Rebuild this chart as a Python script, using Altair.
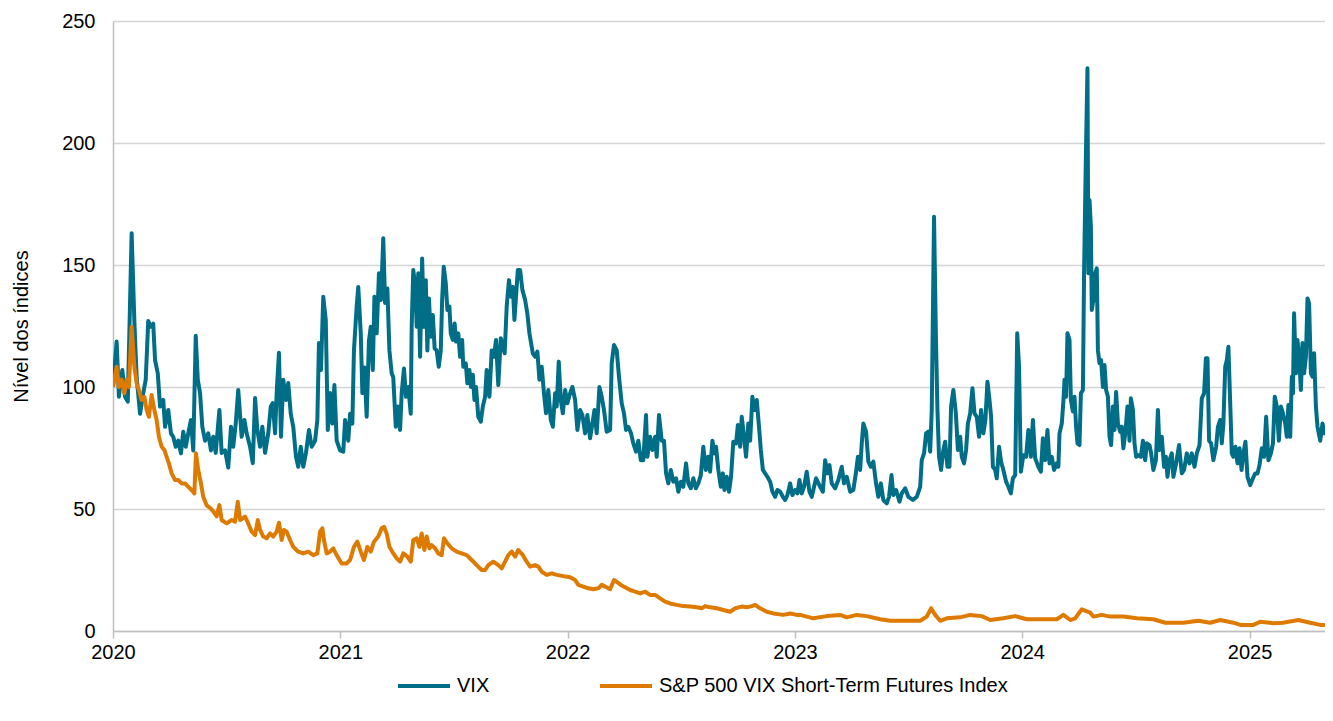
import altair as alt
import pandas as pd

VIX_NAME = "VIX"
SP_NAME = "S&P 500 VIX Short-Term Futures Index"

# (anos desde 2020-01-01, nível do índice)
vix_2020 = [(0.000,100),(0.016,118.6),(0.026,96),(0.041,107),(0.053,96),(0.065,94),(0.082,163),(0.094,127),(0.104,104),(0.119,89),(0.133,97.5),(0.144,103),(0.155,127),(0.167,124.7),(0.177,126),(0.185,111),(0.197,105.6),(0.207,92),(0.221,94.7),(0.229,83.7),(0.243,90.6),(0.255,81),(0.265,79.6),(0.276,75.5),(0.287,78),(0.299,72.8),(0.309,81.7),(0.320,75.5),(0.331,81),(0.343,86.5),(0.353,74),(0.364,121),(0.373,103),(0.383,97.5),(0.393,83.7),(0.405,78),(0.419,81),(0.431,74),(0.441,79.6),(0.452,73),(0.468,90.6),(0.478,73),(0.493,74),(0.507,67),(0.519,83.7),(0.529,75.5),(0.540,85),(0.551,98.8),(0.566,79.6),(0.578,86.5),(0.588,81),(0.603,75.5),(0.615,68.8),(0.625,95.5),(0.635,82.4),(0.647,75.5),(0.657,83.7),(0.669,73),(0.683,81),(0.694,92),(0.703,93.4),(0.713,81),(0.720,97.5),(0.730,114),(0.739,79.6),(0.749,103),(0.761,94.7),(0.771,101.6),(0.782,89),(0.793,83.7),(0.805,71.4),(0.815,67.3),(0.826,75.5),(0.837,67.3),(0.849,73),(0.862,82.4),(0.874,75.5),(0.889,78),(0.899,86.5),(0.906,118),(0.915,107),(0.925,137),(0.936,127.5),(0.945,82.4),(0.955,97.5),(0.965,85),(0.974,100.8),(0.984,78),(0.999,74)]
vix_2021 = [(1.013,73.5),(1.021,86.5),(1.035,78),(1.043,89),(1.053,85),(1.060,115),(1.072,133),(1.079,141),(1.090,122),(1.097,97.5),(1.106,108),(1.116,87.8),(1.126,119),(1.134,124.7),(1.143,107),(1.150,137),(1.160,122),(1.170,146.6),(1.179,135.7),(1.189,161),(1.197,134.4),(1.207,140.4),(1.216,115),(1.226,105.6),(1.233,104),(1.244,83.7),(1.253,92),(1.263,82.4),(1.270,97.5),(1.280,107.6),(1.289,96),(1.299,100),(1.310,89),(1.314,124.7),(1.321,148),(1.330,141),(1.336,124.7),(1.343,146.6),(1.351,112.4),(1.360,152.7),(1.368,124.7),(1.376,143.8),(1.383,115),(1.390,136.3),(1.398,120.6),(1.407,129.5),(1.415,115.8),(1.424,115),(1.433,108.3),(1.442,115),(1.448,135.7),(1.455,149.3),(1.464,142.5),(1.471,131.6),(1.480,133),(1.486,122),(1.495,119.3),(1.503,126),(1.509,118.6),(1.519,122),(1.527,112.4),(1.536,119.3),(1.541,108.3),(1.552,109.7),(1.559,101.5),(1.568,107),(1.575,100),(1.583,105),(1.590,94.7),(1.597,100),(1.607,87.8),(1.618,85.8),(1.627,92),(1.637,96),(1.644,107),(1.656,96),(1.666,115),(1.676,112.4),(1.685,119.3),(1.695,100.8),(1.706,120),(1.715,116.5),(1.723,113.8),(1.732,133),(1.742,143.8),(1.751,137),(1.759,141),(1.766,127.5),(1.773,137),(1.781,148),(1.791,148),(1.801,139.8),(1.813,135.7),(1.823,130),(1.832,122),(1.847,113.8),(1.857,112.4),(1.867,114.5),(1.876,103),(1.886,108.3),(1.896,97.4),(1.905,89.2),(1.915,98.8),(1.926,86.5),(1.935,83.7),(1.945,97.4),(1.952,92),(1.961,110.4),(1.970,94.7),(1.979,89.2),(1.989,98.8),(1.999,93.3)]
vix_2022 = [(2.011,97.4),(2.021,100),(2.033,94.7),(2.043,82.4),(2.055,90.6),(2.065,88.5),(2.077,81),(2.087,88.5),(2.099,79),(2.109,85),(2.118,90.6),(2.128,81),(2.140,100),(2.150,96),(2.160,90.6),(2.172,81.7),(2.187,82.4),(2.194,109.7),(2.204,117.2),(2.216,115),(2.226,104.2),(2.238,93.3),(2.248,89.2),(2.257,82.4),(2.267,83.7),(2.279,81),(2.289,76.9),(2.301,73.5),(2.311,78),(2.322,70),(2.333,70),(2.345,88.5),(2.351,71.4),(2.363,79.6),(2.373,74.2),(2.385,79.6),(2.392,71.4),(2.402,88.5),(2.414,78),(2.424,78),(2.433,64.6),(2.443,60.5),(2.454,66),(2.465,61.2),(2.477,62.6),(2.487,57.1),(2.498,61.2),(2.509,59.1),(2.521,68.7),(2.531,60.5),(2.542,58.5),(2.553,62.6),(2.564,58.5),(2.575,60.5),(2.586,63.9),(2.597,75.5),(2.608,66),(2.618,71.4),(2.627,65.3),(2.637,78),(2.646,72.8),(2.653,75.5),(2.663,66),(2.674,59.1),(2.683,64.6),(2.690,57.8),(2.700,63.2),(2.710,57.1),(2.719,63.2),(2.729,77.6),(2.741,76.9),(2.749,84.4),(2.759,75.5),(2.766,87.8),(2.776,79.6),(2.785,71.4),(2.795,85),(2.803,78),(2.813,96),(2.822,90.6),(2.832,94.7),(2.842,83.7),(2.850,74.2),(2.859,66),(2.869,64.6),(2.879,63.2),(2.891,61.2),(2.901,57.1),(2.913,55),(2.923,57.8),(2.935,57.1),(2.947,55),(2.957,53.7),(2.967,55.7),(2.979,60.5),(2.989,55.7)]
vix_2023 = [(3.001,57.8),(3.011,56.4),(3.020,61.9),(3.030,56.4),(3.040,59.1),(3.052,65.3),(3.064,57.1),(3.074,55),(3.093,62.6),(3.111,59.1),(3.123,57.1),(3.133,70),(3.143,64.6),(3.152,68),(3.162,60.5),(3.177,58.5),(3.191,61.9),(3.206,67.3),(3.216,60.5),(3.228,63.2),(3.243,57.1),(3.257,57.8),(3.268,64.6),(3.277,71.4),(3.287,66),(3.294,76.9),(3.301,85),(3.313,81.7),(3.323,69.4),(3.334,67.3),(3.345,69.4),(3.357,60.5),(3.367,55),(3.378,60.5),(3.389,53.7),(3.404,52.3),(3.414,55),(3.425,63.9),(3.433,55.7),(3.445,57.8),(3.460,53),(3.470,56.4),(3.485,58.5),(3.499,55),(3.519,53.7),(3.536,55),(3.551,59.1),(3.558,70),(3.568,72.8),(3.577,81),(3.587,81.7),(3.595,73.5),(3.602,90.6),(3.612,169.8),(3.620,122),(3.627,90.6),(3.634,71.4),(3.643,66),(3.653,74.2),(3.661,77.6),(3.671,67.3),(3.680,67.3),(3.687,92),(3.697,98.8),(3.708,89.2),(3.717,74.2),(3.727,79.6),(3.734,71.4),(3.744,68.7),(3.753,74.2),(3.761,85),(3.771,89.2),(3.781,99.5),(3.790,89.2),(3.800,87.8),(3.810,79.6),(3.819,90.6),(3.829,81),(3.838,86.5),(3.847,102.2),(3.856,94.7),(3.863,87.8),(3.871,67.3),(3.881,66),(3.888,62.6),(3.898,75.5),(3.907,69.4),(3.917,66),(3.929,61.2),(3.939,59.1),(3.950,56.4),(3.959,62.6),(3.969,63.9),(3.978,122),(3.986,108.3),(3.994,65.3)]
vix_2024 = [(4.005,72),(4.017,71.4),(4.027,82.4),(4.038,71.4),(4.047,86.5),(4.057,70.8),(4.071,67.3),(4.082,65.3),(4.091,79),(4.101,70),(4.111,82.4),(4.120,68.7),(4.130,71.4),(4.140,66),(4.152,68.7),(4.159,67.3),(4.164,81),(4.174,85),(4.181,94),(4.186,103),(4.193,96),(4.199,122),(4.208,119.3),(4.214,94.7),(4.223,90),(4.230,96),(4.237,83.7),(4.243,76.9),(4.252,76.2),(4.258,97.4),(4.267,98.8),(4.272,146.6),(4.280,194.4),(4.287,230.6),(4.291,146.6),(4.296,176.6),(4.302,165.7),(4.306,131.6),(4.313,135.7),(4.321,146.6),(4.328,148.6),(4.333,115),(4.340,109.7),(4.347,111),(4.355,100),(4.362,109),(4.369,98.8),(4.377,96),(4.384,79.6),(4.391,76.2),(4.399,92),(4.406,82.4),(4.413,98),(4.421,85),(4.431,81.7),(4.438,83.7),(4.445,74.9),(4.454,81.7),(4.463,92),(4.472,78),(4.478,95.4),(4.487,90.6),(4.494,76.9),(4.501,71.4),(4.511,72.1),(4.522,71.4),(4.531,78),(4.541,70),(4.548,76.9),(4.560,76.2),(4.567,72.8),(4.577,66),(4.588,70),(4.597,90.6),(4.604,74.2),(4.614,79.6),(4.624,67.3),(4.632,71.4),(4.639,63.2),(4.648,70),(4.658,72.8),(4.665,63.2),(4.677,68.7),(4.690,76.2),(4.702,64.6),(4.712,66),(4.724,72.8),(4.736,68.7),(4.746,72.8),(4.758,67.3),(4.768,72.8),(4.780,76.2),(4.790,95.4),(4.800,97.4),(4.808,111.8),(4.815,111.8),(4.822,78),(4.831,76.9),(4.841,70),(4.853,75.5),(4.861,83.7),(4.871,86.5),(4.878,76.9),(4.885,85),(4.893,108.3),(4.900,111),(4.907,116.5),(4.915,93.3),(4.922,72.8),(4.929,71.4),(4.938,75.5),(4.947,68.7),(4.956,74.9),(4.965,66),(4.973,72.8),(4.982,77.6),(4.991,63.2)]
vix_2025 = [(5.003,59.8),(5.015,62.6),(5.025,64.6),(5.035,64.6),(5.044,68),(5.054,74.9),(5.064,71.4),(5.073,87.8),(5.083,70),(5.094,72.8),(5.103,76.9),(5.111,96),(5.120,92),(5.129,78),(5.138,92),(5.147,89.2),(5.157,85),(5.164,79.6),(5.171,92.6),(5.179,79.6),(5.186,104.2),(5.191,97.4),(5.196,130.2),(5.204,105.6),(5.211,119.3),(5.218,112.4),(5.226,98.8),(5.233,118),(5.240,105.6),(5.248,112.4),(5.255,136.3),(5.262,134.3),(5.270,105.6),(5.277,104.2),(5.284,113.8),(5.292,92),(5.299,83.7),(5.311,78),(5.321,85),(5.330,81),(5.340,83.7),(5.350,74.9),(5.362,81),(5.368,80)]

sp_2020 = [(0.000,100),(0.016,108.3),(0.026,100),(0.038,103),(0.050,97.4),(0.060,103),(0.070,100),(0.082,124.7),(0.094,108.3),(0.104,101.5),(0.114,98.8),(0.126,94.7),(0.138,96),(0.148,90.6),(0.158,87.8),(0.170,96.7),(0.182,90.6),(0.192,86.5),(0.202,79.6),(0.214,75.5),(0.226,74.2),(0.236,71.4),(0.246,68.7),(0.258,64.6),(0.273,61.9),(0.287,61.9),(0.302,60.5),(0.317,60.5),(0.331,59.1),(0.346,57.8),(0.358,56.4),(0.365,72.8),(0.375,66),(0.387,60.5),(0.397,55),(0.412,51.5),(0.427,50.5),(0.441,49),(0.456,47),(0.468,51.6),(0.478,45.5),(0.500,44.1),(0.522,45.5),(0.537,44.8),(0.549,53),(0.559,45.5),(0.581,46.9),(0.595,44.1),(0.610,40.7),(0.625,39.3),(0.637,45.5),(0.647,41.4),(0.661,38.7),(0.676,38),(0.691,40),(0.705,38.7),(0.720,40.7),(0.730,44.4),(0.742,37.3),(0.752,41.4),(0.764,40.7),(0.779,37.3),(0.793,34.5),(0.815,32.5),(0.837,31.8),(0.859,32.5),(0.881,31.1),(0.899,31.8),(0.911,40.7),(0.921,42.1),(0.928,37.3),(0.940,31.8),(0.955,32.5),(0.969,33.9),(0.984,31.1)]
sp_2021 = [(1.006,27.7),(1.028,27.7),(1.043,29.1),(1.060,34.5),(1.075,36.6),(1.090,32.5),(1.104,29.1),(1.119,34.5),(1.134,32.5),(1.148,36.6),(1.167,38.7),(1.182,42.1),(1.192,42.7),(1.204,40),(1.216,34.5),(1.233,31.8),(1.248,29.8),(1.263,28.4),(1.277,31.8),(1.295,30.5),(1.310,28.4),(1.321,37.3),(1.336,38),(1.348,34.5),(1.358,40),(1.370,33.2),(1.380,38.7),(1.392,33.9),(1.402,35.2),(1.417,33.9),(1.431,31.8),(1.446,31.1),(1.456,38),(1.471,35.9),(1.490,33.9),(1.512,32.5),(1.534,31.8),(1.556,31.1),(1.578,29.1),(1.600,27),(1.622,25),(1.637,25),(1.651,27),(1.673,28.4),(1.695,27),(1.710,25.7),(1.725,28.4),(1.739,31.1),(1.754,32.5),(1.769,30.5),(1.783,33.2),(1.803,31.1),(1.820,28.4),(1.835,26.4),(1.857,27),(1.871,26.4),(1.886,24.3),(1.908,23),(1.930,23.6),(1.952,23),(1.981,22.5)]
sp_2022 = [(2.011,22),(2.033,20.9),(2.047,18.9),(2.069,18.2),(2.091,17.5),(2.113,17.1),(2.135,17.5),(2.150,18.9),(2.165,18.2),(2.187,17.1),(2.204,20.9),(2.216,20.2),(2.234,18.9),(2.253,17.9),(2.275,16.8),(2.297,16.1),(2.319,15.4),(2.341,16.1),(2.363,14.8),(2.385,14.8),(2.407,13.4),(2.429,12),(2.451,11.3),(2.480,10.7),(2.509,10.2),(2.539,10),(2.568,9.7),(2.590,9.3),(2.605,10.2),(2.627,9.7),(2.656,9.3),(2.685,8.6),(2.715,7.9),(2.737,9.3),(2.766,10),(2.788,9.7),(2.810,10.2),(2.825,10.7),(2.847,9.3),(2.876,7.9),(2.905,7.2),(2.949,6.6),(2.979,7.2)]
sp_2023 = [(3.008,6.6),(3.023,6.6),(3.081,5.2),(3.140,6.1),(3.199,6.6),(3.228,5.6),(3.272,6.6),(3.316,6.1),(3.375,4.8),(3.419,4.2),(3.492,4.2),(3.551,4.2),(3.580,5.9),(3.599,9.3),(3.617,6.6),(3.639,4.2),(3.668,5.2),(3.727,5.6),(3.771,6.6),(3.822,6.1),(3.859,4.5),(3.917,5.2),(3.969,6.1)]
sp_2024 = [(4.020,4.8),(4.079,4.8),(4.152,4.8),(4.181,6.6),(4.211,4.5),(4.233,5.2),(4.262,8.9),(4.299,7.5),(4.313,5.9),(4.350,6.6),(4.387,5.9),(4.445,5.9),(4.504,5.2),(4.577,4.8),(4.629,3.4),(4.709,3.4),(4.775,4.2),(4.827,3.4),(4.871,4.5),(4.929,3.4),(4.959,2.5)]
sp_2025 = [(5.017,2.5),(5.047,3.8),(5.103,3.2),(5.147,3.4),(5.215,4.5),(5.267,3.4),(5.311,2.5),(5.368,2.5)]

year_ticks = [2020, 2021, 2022, 2023, 2024, 2025]
y_ticks = [0, 50, 100, 150, 200, 250]


def table(name, parts):
    rows = []
    for part in parts:
        for t, v in part:
            rows.append({"ano": 2020 + t, "nivel": v, "serie": name})
    df = pd.DataFrame(rows)
    df["ordem"] = range(len(df))
    return df


df_vix = table(VIX_NAME, [vix_2020, vix_2021, vix_2022, vix_2023, vix_2024, vix_2025])
df_sp = table(SP_NAME, [sp_2020, sp_2021, sp_2022, sp_2023, sp_2024, sp_2025])

color_scale = alt.Scale(domain=[VIX_NAME, SP_NAME], range=["#006E87", "#DE7A00"])

x_enc = alt.X(
    "ano:Q",
    scale=alt.Scale(domain=[2020, 2025.332], nice=False, zero=False),
    axis=alt.Axis(
        values=year_ticks, format="d", title=None, grid=False,
        ticks=True, tickSize=7, tickColor="#bfbfbf", tickWidth=1.5,
        domain=True, domainColor="#bfbfbf", domainWidth=1.5,
        labelFontSize=20, labelPadding=4, labelColor="#000000",
        labelFlush=False, labelOverlap=False,
    ),
)
y_enc = alt.Y(
    "nivel:Q",
    scale=alt.Scale(domain=[0, 250], nice=False),
    axis=alt.Axis(
        values=y_ticks, title="Nível dos índices", grid=True,
        gridColor="#d4d4d4", gridWidth=1.5, ticks=False,
        domain=True, domainColor="#bfbfbf", domainWidth=1.5,
        labelFontSize=20, labelPadding=18, labelColor="#000000",
        titleFontSize=20, titleFontWeight="normal", titleColor="#000000",
        titlePadding=30,
    ),
)
color_enc = alt.Color(
    "serie:N",
    scale=color_scale,
    legend=alt.Legend(
        title=None, orient="none", legendX=283, legendY=637,
        direction="horizontal", symbolType="stroke", symbolSize=2704,
        symbolStrokeWidth=4, labelFontSize=20, labelColor="#000000",
        columnPadding=102, labelOffset=5, labelLimit=0,
    ),
)

vix_layer = alt.Chart(df_vix).mark_line(strokeWidth=4, clip=True, strokeJoin="round").encode(
    x=x_enc, y=y_enc, color=color_enc, order="ordem:Q"
)
sp_layer = alt.Chart(df_sp).mark_line(strokeWidth=4, clip=True, strokeJoin="round").encode(
    x=x_enc, y=y_enc, color=color_enc, order="ordem:Q"
)

chart = alt.layer(vix_layer, sp_layer).properties(
    width=1212,
    height=610,
    padding={"left": 105, "top": 13, "right": 0, "bottom": 80},
    autosize=alt.AutoSizeParams(type="none"),
).configure(font="Liberation Sans").configure_view(strokeWidth=0)

chart.save("out.html", embed_options={"renderer": "svg", "actions": False})
